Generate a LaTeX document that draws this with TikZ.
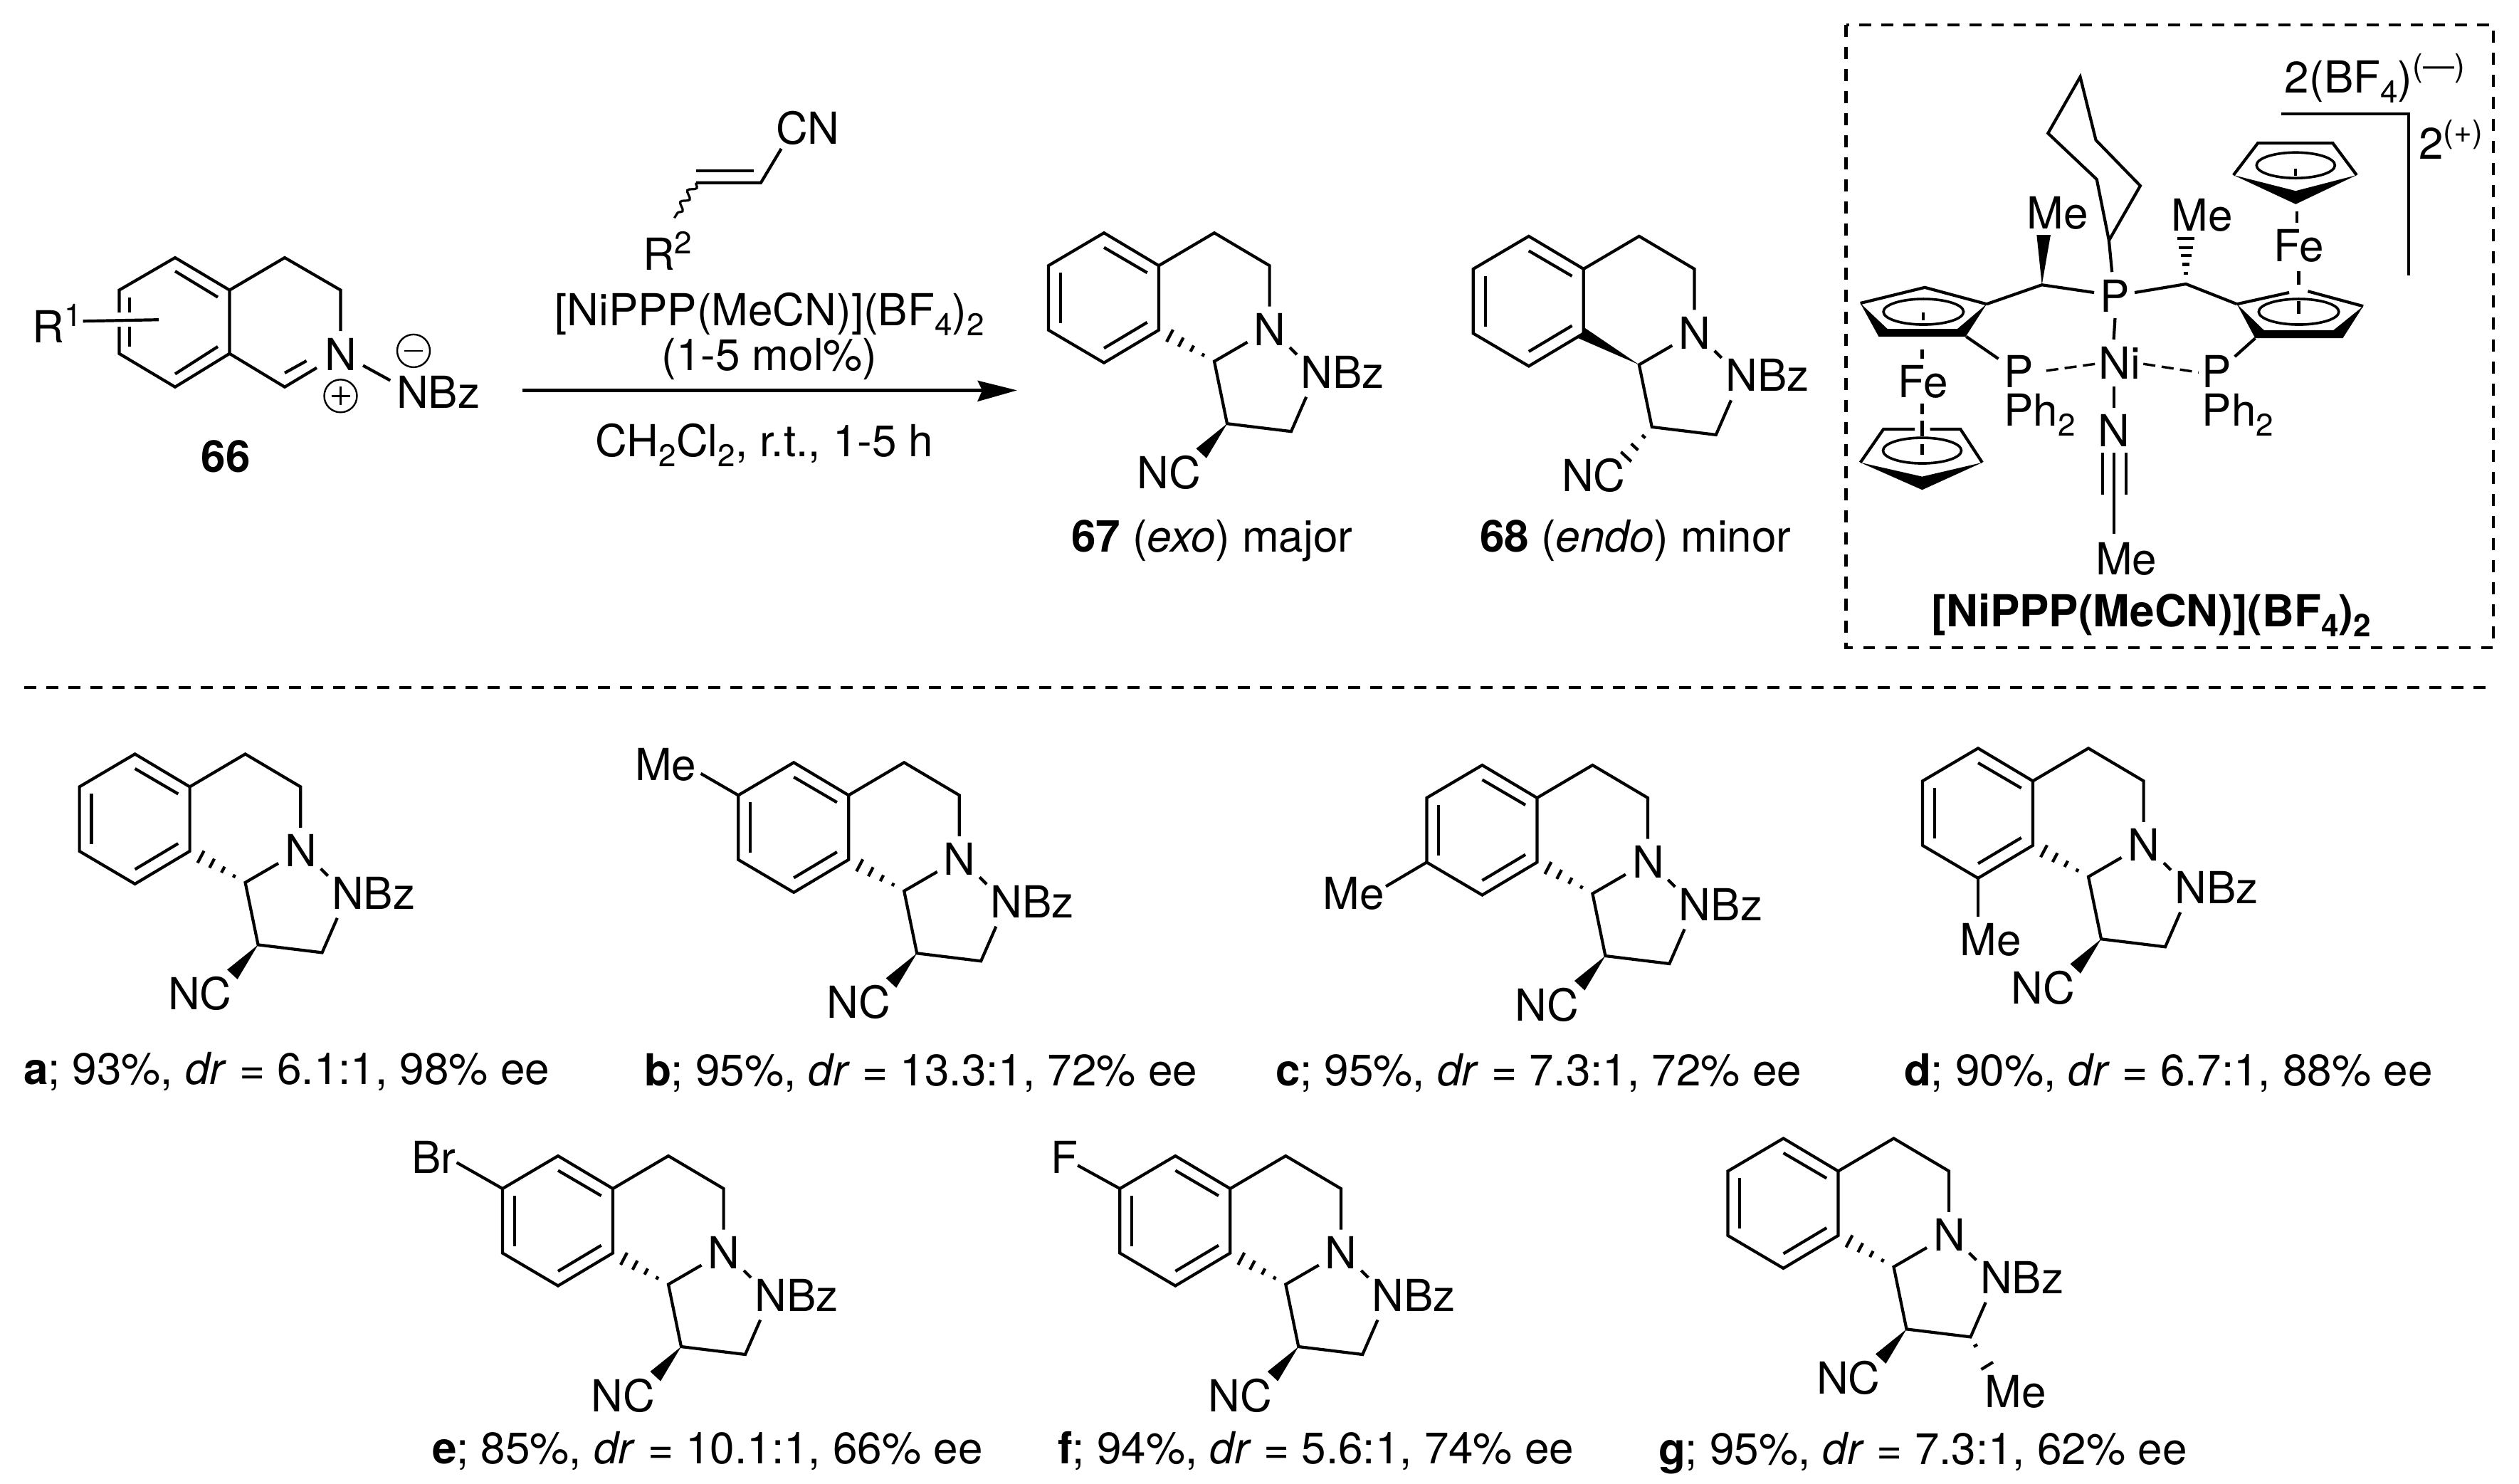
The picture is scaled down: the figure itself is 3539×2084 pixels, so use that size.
\documentclass[tikz,border=0pt]{standalone}
\usepackage{fontspec}
\setmainfont{TeX Gyre Heros}
\usetikzlibrary{calc,decorations.pathmorphing}
\newcommand{\sbs}[1]{\raisebox{-7pt}{\fontsize{22pt}{22pt}\selectfont #1}}
\newcommand{\sps}[1]{\raisebox{11.5pt}{\fontsize{22pt}{22pt}\selectfont #1}}
\tikzset{
  bnd/.style={line width=2.1pt,line join=miter,line cap=butt},
  cpring/.style={line width=1.8pt},
  hsh/.style={line width=2.1pt},
  blk/.style={fill=black,draw=none},
  chg/.style={line width=1.2pt},
  dsh/.style={line width=2.4pt,dash pattern=on 8.25pt off 7.25pt},
  ndash/.style={line width=1.7pt,dash pattern=on 8.5pt off 4.5pt},
  lab/.style={inner sep=0pt,outer sep=0pt,anchor=base west,font=\fontsize{31pt}{36pt}\selectfont},
  cen/.style={lab,anchor=base}
}
% hashed wedge: tip, wide ends, list of positions
\newcommand{\hashw}[4]{\foreach \tt in {#4}{\draw[hsh] ($(#1)!\tt!(#2)$) -- ($(#1)!\tt!(#3)$);}}
% tricyclic skeleton: prefix, x, y, stereo
\newcommand{\tricy}[4]{%
\begin{scope}[shift={(#2,#3)}]
\coordinate (#1T) at (-77,-46);\coordinate (#1UR) at (0,0);\coordinate (#1LR) at (0,90.5);
\coordinate (#1B) at (-77,136.5);\coordinate (#1LL) at (-155,90.5);\coordinate (#1UL) at (-155,0);
\coordinate (#1Ca) at (78,-46);\coordinate (#1Cb) at (155.6,0);\coordinate (#1Nt) at (155.6,57.5);
\coordinate (#1Co) at (78,134.5);\coordinate (#1Nw) at (124.5,107.5);
\coordinate (#1Cc) at (96,222);\coordinate (#1Cd) at (186,233);\coordinate (#1Nb) at (207.2,184.4);
\coordinate (#1Na) at (184,115);\coordinate (#1Nc) at (194,125);
\coordinate (#1Wa) at (52.5,257);\coordinate (#1Wb) at (67,270.5);
\coordinate (#1Ha) at (20,90);\coordinate (#1Hb) at (11,107);
\draw[bnd] (#1UL) -- (#1T) -- (#1UR) -- (#1LR) -- (#1B) -- (#1LL) -- cycle;
\draw[bnd] (-77,-25.5) -- (-16.3,10);
\draw[bnd] (-138.2,10) -- (-138.2,80.6);
\draw[bnd] (-77,116) -- (-16.3,79.7);
\draw[bnd] (#1UR) -- (#1Ca) -- (#1Cb) -- (#1Nt);
\draw[bnd] (#1Nw) -- (#1Co) -- (#1Cc) -- (#1Cd) -- (#1Nb);
\draw[bnd] (#1Na) -- (#1Nc);
\ifnum#4=0
 \hashw{#1Co}{#1Ha}{#1Hb}{.25,.5,.75,1}
 \fill[blk] (#1Cc) -- (#1Wa) -- (#1Wb) -- cycle;
\else
 \fill[blk] (#1Co) -- (2,83) -- (-8,97) -- cycle;
 \hashw{#1Cc}{#1Wa}{#1Wb}{.32,.67,1}
\fi
\node[cen] (#1N) at (156,112.5) {N};
\node[lab] (#1NBz) at (199.5,172) {NBz};
\node[lab] (#1NC) at (-30.5,313) {NC};
\end{scope}}
\begin{document}
\begin{tikzpicture}[x=0.5pt,y=-0.5pt]
\useasboundingbox (0,0) rectangle (3539,2084);
% ------------ compound 66
\begin{scope}
\coordinate (sT) at (246,362);\coordinate (sUR) at (322.5,407.6);\coordinate (sLR) at (322.5,496.8);
\coordinate (sB) at (246,543.7);\coordinate (sLL) at (167.5,496.8);\coordinate (sUL) at (167.5,407.6);
\coordinate (sGa) at (167.5,439);\coordinate (sGb) at (167.5,459);
\coordinate (sCa) at (400,362);\coordinate (sCb) at (478.5,407.6);\coordinate (sNt) at (478.5,465);
\coordinate (sCo) at (400,543.7);\coordinate (sNd) at (445,516.7);
\coordinate (sSa) at (116.7,451.2);\coordinate (sSb) at (223,449.2);
\coordinate (sNa) at (510,513.5);\coordinate (sNc) at (548.3,534.5);
\draw[bnd] (sGa) -- (sUL) -- (sT) -- (sUR) -- (sLR) -- (sB) -- (sLL) -- (sGb);
\draw[bnd] (246,381) -- (306,417.5);
\draw[bnd] (246,525.4) -- (306,487);
\draw[bnd] (181.8,417.5) -- (181.8,439.3);
\draw[bnd] (181.8,459) -- (181.8,487);
\draw[bnd] (sUR) -- (sCa) -- (sCb) -- (sNt);
\draw[bnd] (sLR) -- (sCo) -- (sNd);
\draw[bnd] (400,524) -- (430.6,507);
\draw[bnd] (sSa) -- (sSb);
\draw[bnd] (sNa) -- (sNc);
\node[lab] (sR) at (46,481) {R\sps{1}};
\node[cen] (sN) at (478.5,520.6) {N};
\node[lab] (sNBz) at (557,573.4) {NBz};
\node[lab] (s66) at (317,663) [anchor=base] {\textbf{66}};
\coordinate (pl) at (478.5,556.3);\coordinate (mi) at (581,492.9);
\draw[chg] (pl) circle (23);\draw[chg] (mi) circle (23);
\draw[chg] ($(pl)+(-13,0)$) -- ($(pl)+(13,0)$);\draw[chg] ($(pl)+(0,-13)$) -- ($(pl)+(0,13)$);
\draw[chg] ($(mi)+(-13,0)$) -- ($(mi)+(13,0)$);
\end{scope}
% ------------ reaction arrow and reagents
\coordinate (arA) at (734,548.4);\coordinate (arB) at (1380,548.4);
\coordinate (arT) at (1428.7,548.4);\coordinate (arU) at (1373,534.5);\coordinate (arL) at (1373,564.3);
\draw[line width=2.8pt] (arA) -- (arB);
\fill[blk] (arT) -- (arU) -- (arB) -- (arL) -- cycle;
\coordinate (vA) at (1097.6,209);\coordinate (vB) at (1069,256.7);\coordinate (vC) at (978,256.7);\coordinate (vD) at (947.4,306.3);
\draw[bnd] (vA) -- (vB) -- (vC);
\draw[bnd] (1059.3,240) -- (978,240);
\draw[line width=1.6pt,decorate,decoration={snake,segment length=9.5pt,amplitude=2.4pt}] (vC) -- (vD);
\node[lab] (rCN) at (1090,202.4) {CN};
\node[lab] (rR) at (903,379) {R\sps{2}};
\node[cen] (rA) at (1081,457) {[NiPPP(MeCN)](BF\sbs{4})\sbs{2}};
\node[cen] (rB) at (1081,520.5) {(1-5 mol\%)};
\node[cen] (rC) at (1074,641) {CH\sbs{2}Cl\sbs{2}, r.t., 1-5 h};
% ------------ products 67/68
\tricy{p}{1628}{373.2}{0}
\tricy{q}{2224.8}{377.9}{1}
\node[lab] (l67) at (1505,775.7) {\textbf{67} (\textit{exo}) major};
\node[lab] (l68) at (2079,775.7) {\textbf{68} (\textit{endo}) minor};
% ------------ catalyst box
\coordinate (boxa) at (2593.5,35);\coordinate (boxb) at (3503,910);
\draw[dsh] (boxa) rectangle (boxb);
\coordinate (sepa) at (34,966);\coordinate (sepb) at (3494,966);
\draw[dsh] (sepa) -- (sepb);
\begin{scope}[shift={(2580,0)},xscale=0.6116,yscale=0.6]
% cyclohexyl
\coordinate (cyP) at (626,563);\coordinate (cyb) at (598,420);\coordinate (cyc) at (486,312);
\coordinate (cyd) at (560,180);\coordinate (cye) at (596,328);\coordinate (cyf) at (698,435);
\draw[bnd] (cyP) -- (cyb) -- (cyc) -- (cyd) -- (cye) -- (cyf) -- cycle;
\coordinate (Pt) at (633,637);\draw[bnd] (Pt) -- (cyP);
% backbone
\coordinate (La) at (345,712);\coordinate (Lb) at (472,667);\coordinate (Lc) at (592,685);
\coordinate (Ra) at (685,685);\coordinate (Rb) at (803,665);\coordinate (Rc) at (920,712);
\draw[bnd] (La) -- (Lb) -- (Lc);
\draw[bnd] (Ra) -- (Rb) -- (Rc);
\coordinate (mwa) at (460,550);\coordinate (mwb) at (492,550);
\fill[blk] (Lb) -- (mwa) -- (mwb) -- cycle;
\coordinate (mha) at (783,558);\coordinate (mhb) at (823,558);
\hashw{Rb}{mha}{mhb}{.24,.43,.62,.8,1}
% metal bonds
\coordinate (nia) at (640,745);\coordinate (nib) at (637,795);\coordinate (nic) at (637,905);\coordinate (nid) at (637,955);
\draw[bnd] (nia) -- (nib);\draw[bnd] (nic) -- (nid);
\coordinate (dla) at (482,868);\coordinate (dlb) at (595,852);\coordinate (dra) at (705,852);\coordinate (drb) at (832,872);
\draw[ndash] (dla) -- (dlb);\draw[ndash] (dra) -- (drb);
\coordinate (tra) at (638,1060);\coordinate (trb) at (638,1250);
\draw[bnd] (tra) -- (trb);
\draw[bnd] (612,1060) -- (612,1158);\draw[bnd] (665,1060) -- (665,1158);
\coordinate (Lp) at (298,788);\coordinate (Lq) at (372,840);\coordinate (Rp) at (962,792);\coordinate (Rq) at (915,835);
\draw[bnd] (Lp) -- (Lq);\draw[bnd] (Rp) -- (Rq);
% left upper Cp
\coordinate (c1a) at (55,710);\coordinate (c1b) at (203,673);\coordinate (c1d) at (297,788);\coordinate (c1e) at (97,788);
\draw[bnd] (c1a) -- (c1b) -- (La);
\fill[blk] (c1a) -- (c1e) -- (c1d) -- (La) -- (278,770) -- (117,770) -- cycle;
\coordinate (e1) at (200,730);
\draw[cpring] (e1) ellipse [x radius=92,y radius=30];
\draw[bnd] (200,732) -- (200,750);
\draw[bnd] (197,818) -- (197,840);\draw[bnd] (197,945) -- (197,970);
% left lower Cp
\coordinate (c2a) at (55,1083);\coordinate (c2b) at (108,1005);\coordinate (c2c) at (285,1005);\coordinate (c2d) at (335,1083);\coordinate (c2e) at (197,1147);
\draw[bnd] (c2a) -- (c2b) -- (180,1005);
\draw[bnd] (215,1005) -- (c2c) -- (c2d);
\fill[blk] (c2a) -- (c2e) -- (c2d) -- (197,1116) -- cycle;
\coordinate (e2) at (197,1055);
\draw[cpring] (e2) ellipse [x radius=90,y radius=30];
\draw[bnd] (197,985) -- (197,1022);\draw[bnd] (197,1040) -- (197,1065);
% right upper Cp
\coordinate (c3a) at (912,410);\coordinate (c3b) at (968,335);\coordinate (c3c) at (1140,335);\coordinate (c3d) at (1195,410);\coordinate (c3e) at (1055,478);
\draw[bnd] (c3a) -- (c3b) -- (c3c) -- (c3d);
\fill[blk] (c3a) -- (c3e) -- (c3d) -- (1055,447) -- cycle;
\coordinate (e3) at (1055,387);
\draw[cpring] (e3) ellipse [x radius=90,y radius=30];
\draw[bnd] (1055,395) -- (1055,412);
\draw[bnd] (1058,495) -- (1058,522);\draw[bnd] (1062,635) -- (1062,667);
% right lower Cp
\coordinate (c4b) at (1210,717);\coordinate (c4c) at (1163,792);\coordinate (c4d) at (962,792);
\draw[bnd] (Rc) -- (1040,685);\draw[bnd] (1083,682) -- (c4b);
\fill[blk] (Rc) -- (c4d) -- (c4c) -- (c4b) -- (1142,773) -- (982,773) -- cycle;
\coordinate (e4) at (1062,730);
\draw[cpring] (e4) ellipse [x radius=92,y radius=30];
\draw[bnd] (1062,705) -- (1062,735);
% bracket
\coordinate (bka) at (1022,266);\coordinate (bkb) at (1315,266);\coordinate (bkc) at (1315,645);
\draw[bnd] (bka) -- (bkb) -- (bkc);
% labels
\node[cen] (xMe1) at (508,535) {Me};
\node[cen] (xMe2) at (840,540) {Me};
\node[cen] (xMe3) at (666,1345) {Me};
\node[cen] (xP) at (640,730) {P};
\node[cen] (xNi) at (651,887) {Ni};
\node[cen] (xN) at (638,1045) {N};
\node[lab] (xPL) at (385,907) {P};
\node[lab] (xPhL) at (385,997) {Ph\sbs{2}};
\node[lab] (xPR) at (840,907) {P};
\node[lab] (xPhR) at (840,997) {Ph\sbs{2}};
\node[cen] (xFe1) at (199,930) {Fe};
\node[cen] (xFe2) at (1062,612) {Fe};
\node[lab] (xan) at (1030,217) {2(BF\sbs{4})\sps{(—)}};
\node[lab] (xca) at (1338,372) {2\sps{(+)}};
\node[cen] (xnm) at (723,1468) {\textbf{[NiPPP(MeCN)](BF\sbs{4})\sbs{2}}};
\end{scope}
% ------------ scope row 1
\tricy{a}{266.6}{1105.4}{0}
\tricy{b}{1192.2}{1117.3}{0}
\tricy{c}{2159.4}{1121}{0}
\tricy{d}{2856}{1097.3}{0}
\tricy{e}{861}{1670}{0}
\tricy{f}{1728.3}{1670}{0}
\tricy{g}{2582.5}{1645.4}{0}
% substituents
\coordinate (bX) at ($(bUL)+(-52.6,-30.5)$);\draw[bnd] (bUL) -- (bX);
\node[cen] (bMe) at ($(bUL)+(-102,-21)$) {Me};
\coordinate (cX) at ($(cLL)+(-57.4,33.9)$);\draw[bnd] (cLL) -- (cX);
\node[cen] (cMe) at ($(cLL)+(-103,66)$) {Me};
\coordinate (dX) at ($(dB)+(0,54.5)$);\draw[bnd] (dB) -- (dX);
\node[cen] (dMe) at ($(dB)+(17.5,108.2)$) {Me};
\coordinate (eX) at ($(eUL)+(-64.4,-36.7)$);\draw[bnd] (eUL) -- (eX);
\node[cen] (eBr) at ($(eUL)+(-97,-21.7)$) {Br};
\coordinate (fX) at ($(fUL)+(-59.3,-32.7)$);\draw[bnd] (fUL) -- (fX);
\node[cen] (fF) at ($(fUL)+(-78,-21.7)$) {F};
\coordinate (gHa) at ($(gCd)+(31.5,35.4)$);\coordinate (gHb) at ($(gCd)+(15,45.6)$);
\hashw{gCd}{gHa}{gHb}{.3,1}
\node[cen] (gMe) at ($(gCd)+(63,99)$) {Me};
% yield lines
\node[lab] (ya) at (33,1523.5) {\textbf{a}; 93\%, \textit{dr} = 6.1:1, 98\% ee};
\node[lab] (yb) at (905,1525) {\textbf{b}; 95\%, \textit{dr} = 13.3:1, 72\% ee};
\node[lab] (yc) at (1792,1525) {\textbf{c}; 95\%, \textit{dr} = 7.3:1, 72\% ee};
\node[lab] (yd) at (2675,1525) {\textbf{d}; 90\%, \textit{dr} = 6.7:1, 88\% ee};
\node[lab] (ye) at (607,2056.7) {\textbf{e}; 85\%, \textit{dr} = 10.1:1, 66\% ee};
\node[lab] (yf) at (1486,2056.7) {\textbf{f}; 94\%, \textit{dr} = 5.6:1, 74\% ee};
\node[lab] (yg) at (2330,2057.5) {\textbf{g}; 95\%, \textit{dr} = 7.3:1, 62\% ee};
\end{tikzpicture}
\end{document}
